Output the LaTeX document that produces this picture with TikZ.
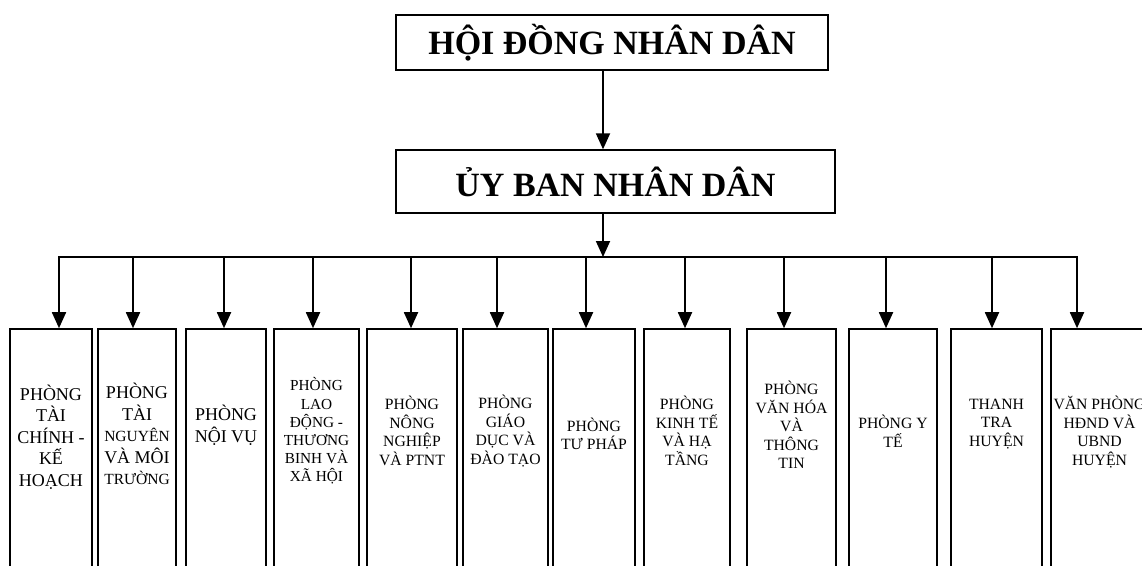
\documentclass[tikz,border=0pt]{standalone}
\usepackage{fontspec}
\setmainfont{Liberation Serif}
\usetikzlibrary{arrows.meta}
\begin{document}
\begin{tikzpicture}[x=1pt,y=-1pt,
  topbox/.style={draw,line width=1.4pt,inner sep=0pt,font=\bfseries\fontsize{34}{40}\selectfont},
  unitbox/.style={draw,line width=1.6pt,inner sep=0pt,minimum height=271pt},
  lab/.style={align=center,inner sep=0pt},
  labA/.style={lab,font=\fontsize{18}{21.6}\selectfont},
  labB/.style={lab,font=\fontsize{15.7}{18.6}\selectfont},
  arr/.style={line width=1.8pt,-{Triangle[width=14pt,length=16pt]}},
  busline/.style={line width=1.8pt}]
\useasboundingbox (0,0) rectangle (1142,565);
\clip (0,0) rectangle (1142,565);
% top boxes
\node[topbox,minimum width=432pt,minimum height=55pt] (hdnd) at (612,42.5) {HỘI ĐỒNG NHÂN DÂN};
\node[topbox,minimum width=439pt,minimum height=63pt] (ubnd) at (615.5,181.5) {ỦY BAN NHÂN DÂN};
\coordinate (busc) at (603,257);
\draw[arr] (hdnd.south -| busc) -- (ubnd.north -| busc);
\draw[arr] (ubnd.south -| busc) -- (busc);
% unit boxes
\node[unitbox,minimum width=82pt] (b1) at (51,464.5) {};
\node[unitbox,minimum width=78pt] (b2) at (137,464.5) {};
\node[unitbox,minimum width=80pt] (b3) at (226,464.5) {};
\node[unitbox,minimum width=85pt] (b4) at (316.5,464.5) {};
\node[unitbox,minimum width=90pt] (b5) at (412,464.5) {};
\node[unitbox,minimum width=85pt] (b6) at (505.5,464.5) {};
\node[unitbox,minimum width=82pt] (b7) at (594,464.5) {};
\node[unitbox,minimum width=86pt] (b8) at (687,464.5) {};
\node[unitbox,minimum width=89pt] (b9) at (791.5,464.5) {};
\node[unitbox,minimum width=88pt] (b10) at (893,464.5) {};
\node[unitbox,minimum width=91pt] (b11) at (996.5,464.5) {};
\node[unitbox,minimum width=97pt] (b12) at (1099.5,464.5) {};
% labels
\node[labA] (t1) at (51,437) {PHÒNG\\TÀI\\CHÍNH -\\KẾ\\HOẠCH};
\node[labA] (t2) at (137,434) {PHÒNG\\TÀI\\{\fontsize{15.5}{18}\selectfont NGUYÊN}\\VÀ MÔI\\{\fontsize{15.5}{18}\selectfont TRƯỜNG}};
\node[labA] (t3) at (226,425) {PHÒNG\\NỘI VỤ};
\node[labB,font=\fontsize{15.3}{18.2}\selectfont] (t4) at (316.5,431) {PHÒNG\\LAO\\ĐỘNG -\\THƯƠNG\\BINH VÀ\\XÃ HỘI};
\node[labB] (t5) at (412,431) {PHÒNG\\NÔNG\\NGHIỆP\\VÀ PTNT};
\node[labB] (t6) at (505.5,431) {PHÒNG\\GIÁO\\DỤC VÀ\\ĐÀO TẠO};
\node[labB] (t7) at (594,434) {PHÒNG\\TƯ PHÁP};
\node[labB] (t8) at (687,431) {PHÒNG\\KINH TẾ\\VÀ HẠ\\TẦNG};
\node[labB] (t9) at (791.5,425) {PHÒNG\\VĂN HÓA\\VÀ\\THÔNG\\TIN};
\node[labB] (t10) at (893,431) {PHÒNG Y\\TẾ};
\node[labB] (t11) at (996.5,424) {THANH\\TRA\\HUYỆN};
\node[labB] (t12) at (1099.5,432) {VĂN PHÒNG\\HĐND VÀ\\UBND\\HUYỆN};
% bus
\coordinate (a1) at (59,257);
\coordinate (a2) at (133,257);
\coordinate (a3) at (224,257);
\coordinate (a4) at (313,257);
\coordinate (a5) at (411,257);
\coordinate (a6) at (497,257);
\coordinate (a7) at (586,257);
\coordinate (a8) at (685,257);
\coordinate (a9) at (784,257);
\coordinate (a10) at (886,257);
\coordinate (a11) at (992,257);
\coordinate (a12) at (1077,257);
\draw[busline] ([xshift=-0.9pt]a1) -- ([xshift=0.9pt]a12);
\foreach \i in {1,...,12}{
  \draw[arr] (a\i) -- (a\i |- b\i.north);
}
\end{tikzpicture}
\end{document}
